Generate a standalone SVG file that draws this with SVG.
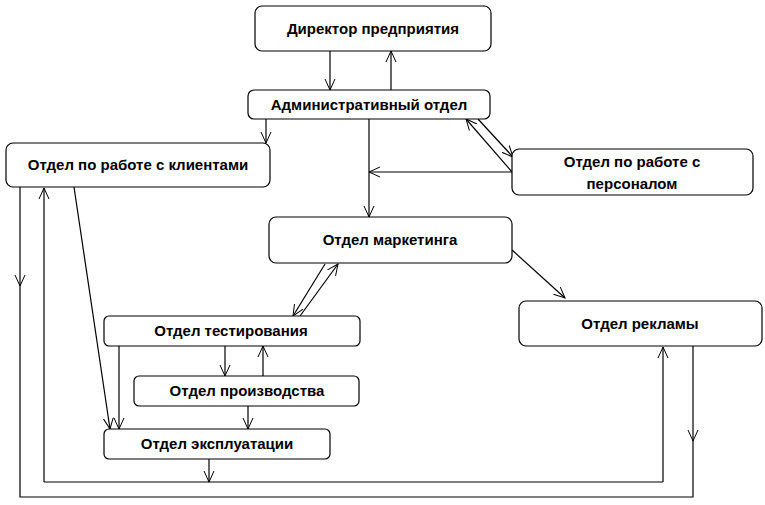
<svg xmlns="http://www.w3.org/2000/svg" width="765" height="505" viewBox="0 0 765 505">
<style>
.b{fill:#fff;stroke:#000;stroke-width:1.2}
.t{font-family:"Liberation Sans",Arial,sans-serif;font-size:15px;font-weight:bold;text-anchor:middle;fill:#000}
.c line,.c polyline,.c path{stroke:#000;stroke-width:1.2;fill:none}
</style>
<defs>
<marker id="a" viewBox="0 0 12 12" refX="11" refY="6" markerWidth="12" markerHeight="12" markerUnits="userSpaceOnUse" orient="auto">
<path d="M0,1 L11,6 L0,11" fill="none" stroke="#000" stroke-width="1"/>
</marker>
</defs>
<rect width="765" height="505" fill="#fff"/>
<g class="c" id="connectors">
<line x1="330" y1="51" x2="330" y2="90" marker-end="url(#a)"/>
<line x1="391" y1="90" x2="391" y2="51" marker-end="url(#a)"/>
<line x1="266" y1="119" x2="266" y2="143" marker-end="url(#a)"/>
<line x1="369" y1="119" x2="369" y2="217" marker-end="url(#a)"/>
<line x1="512" y1="172" x2="369" y2="172" marker-end="url(#a)"/>
<line x1="512" y1="172" x2="466" y2="119" marker-end="url(#a)"/>
<line x1="478" y1="119" x2="513" y2="157" marker-end="url(#a)"/>
<line x1="512" y1="250" x2="565" y2="298" marker-end="url(#a)"/>
<line x1="325" y1="264" x2="293" y2="316" marker-end="url(#a)"/>
<line x1="300" y1="316" x2="338" y2="264" marker-end="url(#a)"/>
<line x1="225" y1="346" x2="225" y2="376" marker-end="url(#a)"/>
<line x1="263" y1="376" x2="263" y2="346" marker-end="url(#a)"/>
<line x1="248" y1="406" x2="248" y2="429" marker-end="url(#a)"/>
<line x1="119" y1="346" x2="119" y2="429" marker-end="url(#a)"/>
<line x1="74" y1="187" x2="110" y2="429" marker-end="url(#a)"/>
<line x1="209" y1="459" x2="209" y2="482" marker-end="url(#a)"/>
<polyline points="44,482 663,482"/>
<line x1="44" y1="482" x2="44" y2="188" marker-end="url(#a)"/>
<line x1="663" y1="482" x2="663" y2="347" marker-end="url(#a)"/>
<line x1="20" y1="187" x2="20" y2="286" marker-end="url(#a)"/>
<polyline points="20,286 20,497 693,497 693,441"/>
<line x1="693" y1="346" x2="693" y2="441" marker-end="url(#a)"/>
</g>
<g id="n1"><rect class="b" x="255" y="6" width="236" height="45" rx="7"/><text class="t" x="373" y="34">Директор предприятия</text></g>
<g id="n2"><rect class="b" x="248" y="90" width="242" height="29" rx="6"/><text class="t" x="369" y="110">Административный отдел</text></g>
<g id="n3"><rect class="b" x="6" y="143" width="264" height="44" rx="7"/><text class="t" x="138" y="170">Отдел по работе с клиентами</text></g>
<g id="n4"><rect class="b" x="512" y="149" width="241" height="46" rx="7"/><text class="t" x="632" y="167">Отдел по работе с</text><text class="t" x="632" y="189">персоналом</text></g>
<g id="n5"><rect class="b" x="269" y="217" width="243" height="46" rx="7"/><text class="t" x="390" y="245">Отдел маркетинга</text></g>
<g id="n6"><rect class="b" x="519" y="301" width="243" height="45" rx="7"/><text class="t" x="640" y="329">Отдел рекламы</text></g>
<g id="n7"><rect class="b" x="104" y="316" width="256" height="30" rx="5"/><text class="t" x="231" y="336">Отдел тестирования</text></g>
<g id="n8"><rect class="b" x="134" y="376" width="225" height="30" rx="5"/><text class="t" x="247" y="396">Отдел производства</text></g>
<g id="n9"><rect class="b" x="104" y="429" width="226" height="30" rx="5"/><text class="t" x="217" y="449">Отдел эксплуатации</text></g>
</svg>
